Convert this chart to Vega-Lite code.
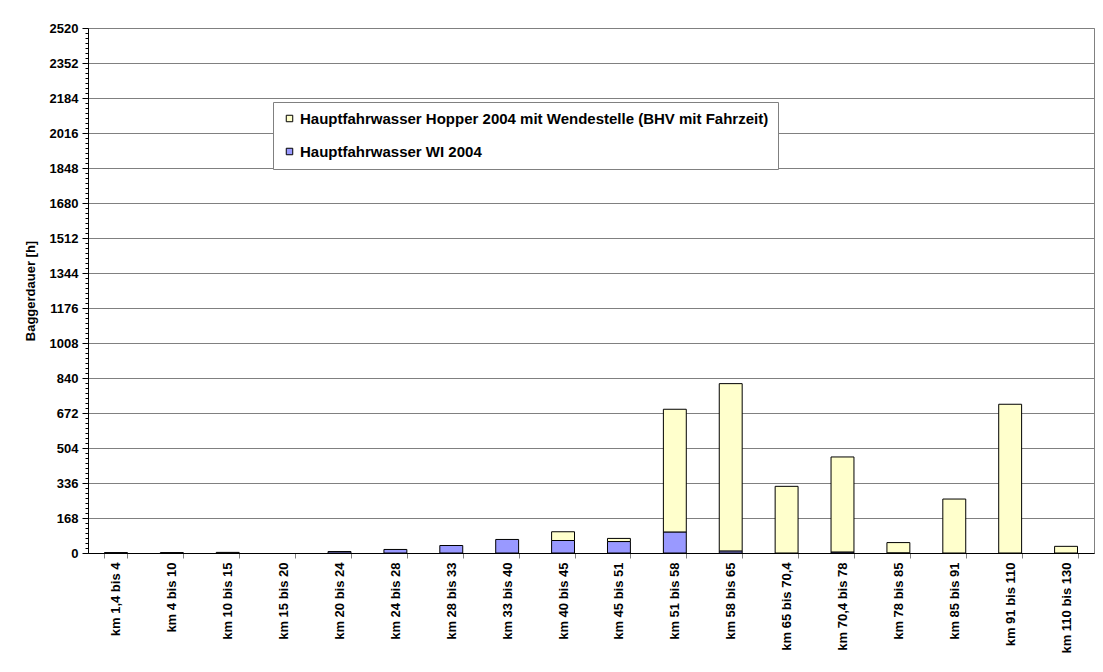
{
  "$schema": "https://vega.github.io/schema/vega-lite/v6.json",
  "width": 1006,
  "height": 525,
  "padding": {"left": 24, "top": 22, "right": 8, "bottom": 5},
  "background": "white",
  "config": {
    "font": "Liberation Sans",
    "view": {"stroke": "#808080", "strokeWidth": 1}
  },
  "data": {
    "values": [
      {"km": "km 1,4 bis 4", "series": "Hauptfahrwasser WI 2004", "h": 2},
      {"km": "km 4 bis 10", "series": "Hauptfahrwasser WI 2004", "h": 2},
      {"km": "km 10 bis 15", "series": "Hauptfahrwasser Hopper 2004 mit Wendestelle (BHV mit Fahrzeit)", "h": 3},
      {"km": "km 15 bis 20", "series": "Hauptfahrwasser WI 2004", "h": 0},
      {"km": "km 20 bis 24", "series": "Hauptfahrwasser WI 2004", "h": 7},
      {"km": "km 24 bis 28", "series": "Hauptfahrwasser WI 2004", "h": 17},
      {"km": "km 28 bis 33", "series": "Hauptfahrwasser WI 2004", "h": 36},
      {"km": "km 33 bis 40", "series": "Hauptfahrwasser WI 2004", "h": 65},
      {"km": "km 40 bis 45", "series": "Hauptfahrwasser WI 2004", "h": 60},
      {"km": "km 40 bis 45", "series": "Hauptfahrwasser Hopper 2004 mit Wendestelle (BHV mit Fahrzeit)", "h": 42},
      {"km": "km 45 bis 51", "series": "Hauptfahrwasser WI 2004", "h": 55},
      {"km": "km 45 bis 51", "series": "Hauptfahrwasser Hopper 2004 mit Wendestelle (BHV mit Fahrzeit)", "h": 15},
      {"km": "km 51 bis 58", "series": "Hauptfahrwasser WI 2004", "h": 101},
      {"km": "km 51 bis 58", "series": "Hauptfahrwasser Hopper 2004 mit Wendestelle (BHV mit Fahrzeit)", "h": 589},
      {"km": "km 58 bis 65", "series": "Hauptfahrwasser WI 2004", "h": 10},
      {"km": "km 58 bis 65", "series": "Hauptfahrwasser Hopper 2004 mit Wendestelle (BHV mit Fahrzeit)", "h": 803},
      {"km": "km 65 bis 70,4", "series": "Hauptfahrwasser Hopper 2004 mit Wendestelle (BHV mit Fahrzeit)", "h": 320},
      {"km": "km 70,4 bis 78", "series": "Hauptfahrwasser WI 2004", "h": 5},
      {"km": "km 70,4 bis 78", "series": "Hauptfahrwasser Hopper 2004 mit Wendestelle (BHV mit Fahrzeit)", "h": 456},
      {"km": "km 78 bis 85", "series": "Hauptfahrwasser WI 2004", "h": 1},
      {"km": "km 78 bis 85", "series": "Hauptfahrwasser Hopper 2004 mit Wendestelle (BHV mit Fahrzeit)", "h": 49},
      {"km": "km 85 bis 91", "series": "Hauptfahrwasser Hopper 2004 mit Wendestelle (BHV mit Fahrzeit)", "h": 259},
      {"km": "km 91 bis 110", "series": "Hauptfahrwasser Hopper 2004 mit Wendestelle (BHV mit Fahrzeit)", "h": 714},
      {"km": "km 110 bis 130", "series": "Hauptfahrwasser Hopper 2004 mit Wendestelle (BHV mit Fahrzeit)", "h": 32}
    ]
  },
  "transform": [{"filter": "datum.h > 0"}],
  "mark": {"type": "bar", "stroke": "black", "strokeWidth": 1, "opacity": 1},
  "encoding": {
    "x": {
      "field": "km",
      "type": "nominal",
      "sort": ["km 1,4 bis 4", "km 4 bis 10", "km 10 bis 15", "km 15 bis 20", "km 20 bis 24", "km 24 bis 28", "km 28 bis 33", "km 33 bis 40", "km 40 bis 45", "km 45 bis 51", "km 51 bis 58", "km 58 bis 65", "km 65 bis 70,4", "km 70,4 bis 78", "km 78 bis 85", "km 85 bis 91", "km 91 bis 110", "km 110 bis 130"],
      "scale": {"domain": ["km 1,4 bis 4", "km 4 bis 10", "km 10 bis 15", "km 15 bis 20", "km 20 bis 24", "km 24 bis 28", "km 28 bis 33", "km 33 bis 40", "km 40 bis 45", "km 45 bis 51", "km 51 bis 58", "km 58 bis 65", "km 65 bis 70,4", "km 70,4 bis 78", "km 78 bis 85", "km 85 bis 91", "km 91 bis 110", "km 110 bis 130"], "paddingInner": 0.59, "paddingOuter": 0.295},
      "axis": {
        "title": null,
        "labelAngle": -90,
        "tickBand": "extent",
        "labelFontWeight": "bold",
        "labelFontSize": 13,
        "labelColor": "black",
        "tickColor": "#808080",
        "tickSize": 5,
        "domainColor": "black",
        "labelPadding": 4,
        "grid": false
      }
    },
    "y": {
      "field": "h",
      "type": "quantitative",
      "stack": "zero",
      "scale": {"domain": [0, 2520], "nice": false},
      "axis": {
        "title": "Baggerdauer [h]",
        "titleFontSize": 13,
        "titleFontWeight": "bold",
        "titleColor": "black",
        "titlePadding": 12,
        "format": "d",
        "values": [0,24,48,72,96,120,144,168,192,216,240,264,288,312,336,360,384,408,432,456,480,504,528,552,576,600,624,648,672,696,720,744,768,792,816,840,864,888,912,936,960,984,1008,1032,1056,1080,1104,1128,1152,1176,1200,1224,1248,1272,1296,1320,1344,1368,1392,1416,1440,1464,1488,1512,1536,1560,1584,1608,1632,1656,1680,1704,1728,1752,1776,1800,1824,1848,1872,1896,1920,1944,1968,1992,2016,2040,2064,2088,2112,2136,2160,2184,2208,2232,2256,2280,2304,2328,2352,2376,2400,2424,2448,2472,2496,2520],
        "labelExpr": "datum.value % 168 === 0 ? datum.label : ''",
        "labelOverlap": false,
        "labelFlush": false,
        "labelFontWeight": "bold",
        "labelFontSize": 13,
        "labelColor": "black",
        "labelPadding": 4,
        "tickColor": "black",
        "tickSize": {"condition": {"test": "datum.value % 168 === 0", "value": 6}, "value": 3},
        "domainColor": "black",
        "grid": true,
        "gridColor": "#808080",
        "gridOpacity": {"condition": {"test": "datum.value % 168 === 0", "value": 1}, "value": 0}
      }
    },
    "color": {
      "field": "series",
      "type": "nominal",
      "scale": {"domain": ["Hauptfahrwasser Hopper 2004 mit Wendestelle (BHV mit Fahrzeit)", "Hauptfahrwasser WI 2004"], "range": ["#FFFFCC", "#9999FF"]},
      "legend": {
        "orient": "none",
        "legendX": 185,
        "legendY": 74,
        "title": null,
        "symbolType": "square",
        "symbolSize": 42,
        "symbolStrokeColor": "black",
        "symbolStrokeWidth": 1,
        "symbolOpacity": 1,
        "labelFontSize": 15,
        "labelFontWeight": "bold",
        "labelColor": "black",
        "labelLimit": 700,
        "labelOffset": 3,
        "strokeColor": "#808080",
        "fillColor": "white",
        "padding": 9,
        "rowPadding": 17
      }
    },
    "order": {"field": "series", "sort": "descending"}
  }
}
